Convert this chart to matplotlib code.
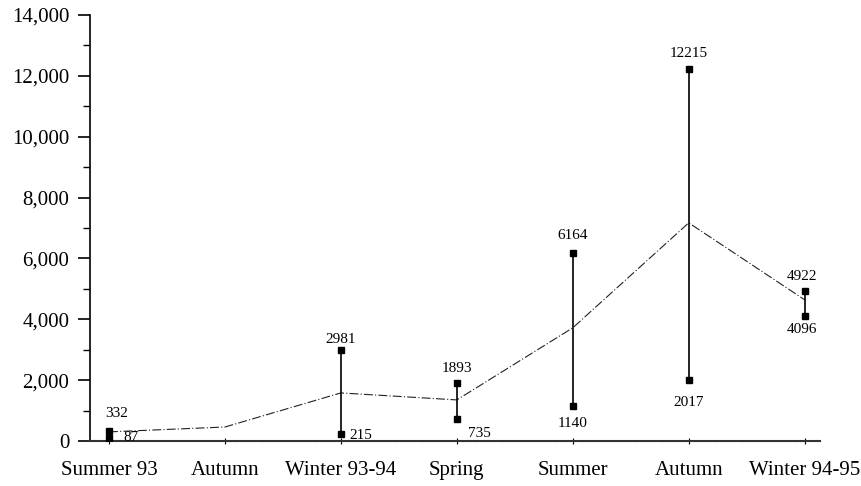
import matplotlib
matplotlib.use("Agg")
import matplotlib.pyplot as plt
from matplotlib.ticker import FuncFormatter, MultipleLocator

seasons = ["Summer 93", "Autumn", "Winter 93-94", "Spring", "Summer", "Autumn", "Winter 94-95"]
high = [332, None, 2981, 1893, 6164, 12215, 4922]
low = [87, None, 215, 735, 1140, 2017, 4096]
mean = [300, 460, 1580, 1350, 3720, 7170, 4640]
baseline = [None, 0, 0, 0, 0, 0, 0]

plt.rcParams["font.family"] = ["Liberation Serif", "DejaVu Serif"]

fig = plt.figure(figsize=(8.62, 4.86), dpi=100)
ax = fig.add_axes([0.1044, 0.0926, 0.8466, 0.8765])

x = list(range(len(seasons)))

# mean line across seasons
ax.plot(x, mean, color="#222222", lw=0.8, ls=(0, (8, 2, 1, 2)), zorder=2)
# dotted trace along the baseline
bx = [i for i, v in zip(x, baseline) if v is not None]
by = [v for v in baseline if v is not None]
ax.plot(bx, by, color="#333333", lw=0.8, ls=(0, (3, 2, 1, 2)), zorder=2, clip_on=False)

# high-low ranges with square end markers
for i, (h, l) in enumerate(zip(high, low)):
    if h is None:
        continue
    ax.plot([i, i], [l, h], color="black", lw=1.2, zorder=3)
    ax.plot([i, i], [l, h], ls="none", marker="s", ms=5, color="black", zorder=4)

# value labels
lab_kw = dict(textcoords="offset points", fontsize=11, color="black")
ax.annotate(str(high[0]), (0, high[0]), xytext=(-3, 8), ha="left", va="bottom", **lab_kw)
ax.annotate(str(low[0]), (0, low[0]), xytext=(10, -4), ha="left", va="bottom", **lab_kw)
ax.annotate(str(high[2]), (2, high[2]), xytext=(0, 3), ha="center", va="bottom", **lab_kw)
ax.annotate(str(low[2]), (2, low[2]), xytext=(6, -1), ha="left", va="center", **lab_kw)
ax.annotate(str(high[3]), (3, high[3]), xytext=(0, 6), ha="center", va="bottom", **lab_kw)
ax.annotate(str(low[3]), (3, low[3]), xytext=(8, -11), ha="left", va="center", **lab_kw)
ax.annotate(str(high[4]), (4, high[4]), xytext=(0, 8), ha="center", va="bottom", **lab_kw)
ax.annotate(str(low[4]), (4, low[4]), xytext=(0, -8), ha="center", va="top", **lab_kw)
ax.annotate(str(high[5]), (5, high[5]), xytext=(0, 7), ha="center", va="bottom", **lab_kw)
ax.annotate(str(low[5]), (5, low[5]), xytext=(0, -12), ha="center", va="top", **lab_kw)
ax.annotate(str(high[6]), (6, high[6]), xytext=(-2, 6), ha="center", va="bottom", **lab_kw)
ax.annotate(str(low[6]), (6, low[6]), xytext=(-2, -5), ha="center", va="top", **lab_kw)

ax.set_xlim(-0.164, 6.13)
ax.set_ylim(0, 14000)
ax.set_xticks(x)
ax.set_xticklabels(seasons, fontsize=15)
ax.yaxis.set_major_locator(MultipleLocator(2000))
ax.yaxis.set_minor_locator(MultipleLocator(1000))
ax.yaxis.set_major_formatter(FuncFormatter(lambda v, p: f"{int(v):,}"))
ax.tick_params(axis="y", which="major", length=9, width=1.2, labelsize=15, pad=6)
ax.tick_params(axis="y", which="minor", length=5, width=1.0)
ax.tick_params(axis="x", which="major", length=5, width=0.8, direction="inout", pad=12)

for side in ("top", "right"):
    ax.spines[side].set_visible(False)
ax.spines["left"].set_linewidth(1.2)
ax.spines["bottom"].set_linewidth(1.5)
ax.spines["bottom"].set_color("#333333")

fig.savefig("out.png", dpi=100)
